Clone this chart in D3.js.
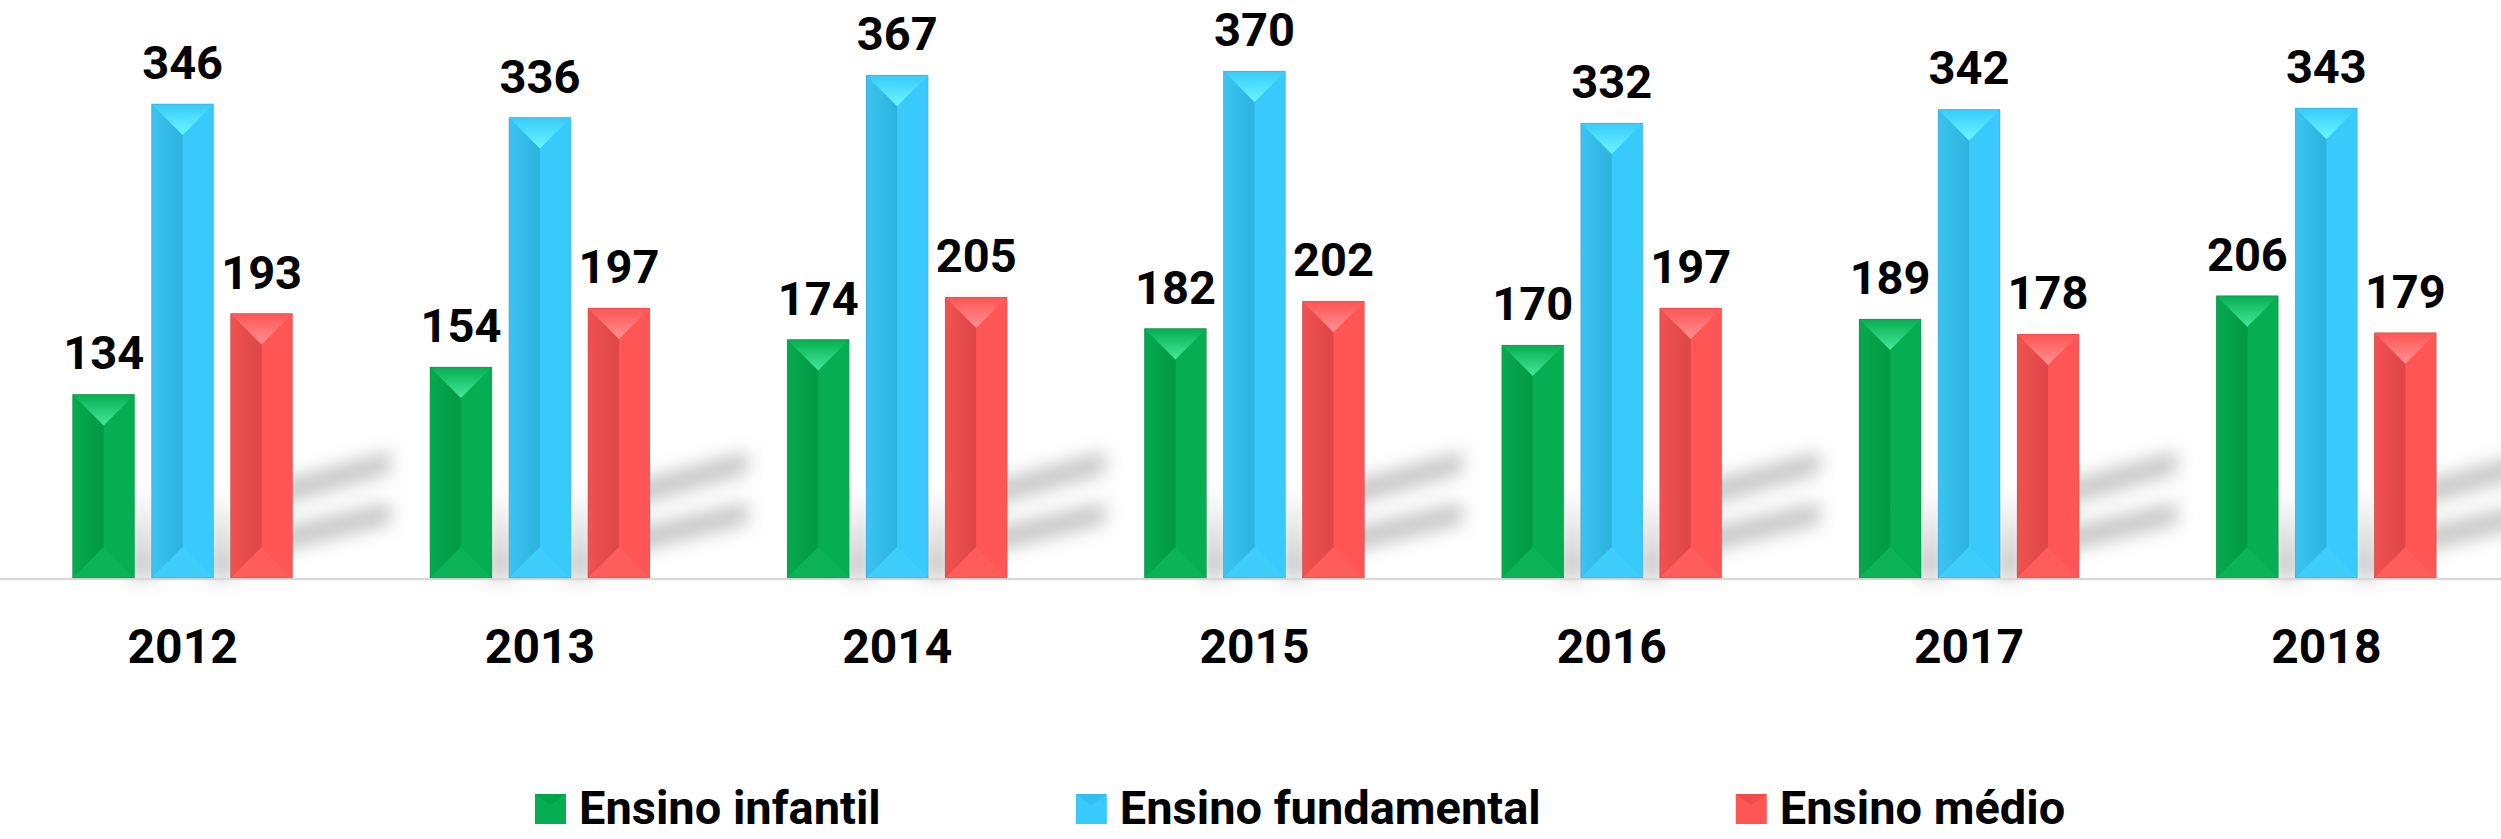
<!DOCTYPE html>
<html>
<head>
<meta charset="utf-8">
<script src="https://cdn.jsdelivr.net/npm/d3@7"></script>
<style>
  body { margin: 0; background: #fff; }
  svg { display: block; }
  text { font-family: Roboto, "DejaVu Sans", sans-serif; font-weight: 700; fill: #000; }
</style>
</head>
<body>
<div id="chart"></div>
<script>
// data
var years = ["2012", "2013", "2014", "2015", "2016", "2017", "2018"];
var series = ["Ensino infantil", "Ensino fundamental", "Ensino médio"];
var infantil = [134, 154, 174, 182, 170, 189, 206];
var fundamental = [346, 336, 367, 370, 332, 342, 343];
var medio = [193, 197, 205, 202, 197, 178, 179];

var width = 2501, height = 839, base = 578;

// colours: main face, left face (edge -> centre), top bevel apex
var colors = {
  "Ensino infantil":    { main: "#05AE50", left: ["#07A94E", "#009944"], apex: "#45E99A", bottom: "#10B65A" },
  "Ensino fundamental": { main: "#38CAFB", left: ["#3CC3F1", "#2DB2DF"], apex: "#6AF7FF", bottom: "#44D0FB" },
  "Ensino médio":       { main: "#FF5555", left: ["#F25151", "#DC4646"], apex: "#FF9191", bottom: "#FF6060" }
};

var rows = years.map(function (yr, i) {
  return { year: yr, values: [
    { key: series[0], value: infantil[i] },
    { key: series[1], value: fundamental[i] },
    { key: series[2], value: medio[i] }
  ] };
});

var svg = d3.select("#chart")
  .append("svg")
  .attr("width", width)
  .attr("height", height);

var defs = svg.append("defs");
var blur = defs.append("filter").attr("id", "blur")
  .attr("x", "-50%").attr("y", "-50%").attr("width", "200%").attr("height", "200%");
blur.append("feGaussianBlur").attr("stdDeviation", 9);

series.forEach(function (s, i) {
  var lg = defs.append("linearGradient").attr("id", "left" + i)
    .attr("x1", 0).attr("y1", 0).attr("x2", 1).attr("y2", 0);
  lg.append("stop").attr("offset", 0).attr("stop-color", colors[s].left[0]);
  lg.append("stop").attr("offset", 1).attr("stop-color", colors[s].left[1]);
  var tg = defs.append("linearGradient").attr("id", "top" + i)
    .attr("x1", 0).attr("y1", 0).attr("x2", 0).attr("y2", 1);
  tg.append("stop").attr("offset", 0).attr("stop-color", colors[s].main);
  tg.append("stop").attr("offset", 1).attr("stop-color", colors[s].apex);
});
var gapGrad = defs.append("linearGradient").attr("id", "gapShadow")
  .attr("x1", 0).attr("y1", 0).attr("x2", 0).attr("y2", 1);
gapGrad.append("stop").attr("offset", 0).attr("stop-color", "#c8c8c8").attr("stop-opacity", 0);
gapGrad.append("stop").attr("offset", 1).attr("stop-color", "#c4c4c4").attr("stop-opacity", 1);

// scales
var x0 = d3.scaleBand().domain(years).range([4, width + 4]);
var x1 = d3.scaleBand().domain(series).range([-110, 110]).paddingInner(0.215);
var y = d3.scaleLinear().domain([0, 420]).range([base, 2.5]);

function cx(yr) { return x0(yr) + x0.bandwidth() / 2; }

// shadows behind each group
var shadows = svg.append("g").attr("filter", "url(#blur)");
rows.forEach(function (d) {
  var xr = cx(d.year) + x1(series[2]) + x1.bandwidth();
  [[86, 115], [40, 64]].forEach(function (s) {
    shadows.append("polygon")
      .attr("points", [
        [xr - 30, base - s[0] - 6], [xr + 98, base - s[1] - 12],
        [xr + 98, base - s[1] + 10], [xr - 30, base - s[0] + 18]
      ].join(" "))
      .attr("fill", "#c6c6c6");
  });
  // soft shadow in the gaps between bars
  for (var k = 0; k < 2; k++) {
    var gx = cx(d.year) + x1(series[k]) + x1.bandwidth();
    shadows.append("rect")
      .attr("x", gx - 6).attr("y", base - 90)
      .attr("width", x1.step() - x1.bandwidth() + 12).attr("height", 90)
      .attr("fill", "url(#gapShadow)");
  }
});

// baseline
svg.append("line")
  .attr("x1", 0).attr("x2", width)
  .attr("y1", base + 1).attr("y2", base + 1)
  .attr("stroke", "#d9d9d9").attr("stroke-width", 2.5);

// bars
var groups = svg.selectAll(".grp")
  .data(rows).enter()
  .append("g").attr("class", "grp")
  .attr("transform", function (d) { return "translate(" + cx(d.year) + ",0)"; });

var bars = groups.selectAll(".bar")
  .data(function (d) { return d.values; }).enter()
  .append("g").attr("class", "bar");

bars.each(function (d) {
  var g = d3.select(this);
  var i = series.indexOf(d.key);
  var w = x1.bandwidth();
  var xa = x1(d.key), xb = xa + w, xc = xa + w / 2;
  var top = y(d.value);
  var bev = w / 2;
  g.append("rect")
    .attr("x", xa).attr("y", top).attr("width", w).attr("height", base - top)
    .attr("fill", colors[d.key].main);
  g.append("polygon")
    .attr("points", [[xa, top], [xc, top + bev], [xc, base - bev], [xa, base]].join(" "))
    .attr("fill", "url(#left" + i + ")");
  g.append("polygon")
    .attr("points", [[xa, base], [xc, base - bev], [xb, base]].join(" "))
    .attr("fill", colors[d.key].bottom).attr("opacity", 0.6);
  g.append("polygon")
    .attr("points", [[xa, top], [xb, top], [xc, top + bev]].join(" "))
    .attr("fill", "url(#top" + i + ")");
  g.append("rect")
    .attr("x", xa).attr("y", top).attr("width", w).attr("height", base - top)
    .attr("fill", "none").attr("stroke", "rgba(0,0,0,0.12)").attr("stroke-width", 1);
});

// value labels
bars.append("text")
  .attr("x", function (d) { return x1(d.key) + x1.bandwidth() / 2; })
  .attr("y", function (d) { return y(d.value) - 25; })
  .attr("text-anchor", "middle")
  .style("font-size", "47px")
  .text(function (d) { return d.value; });

// year labels
svg.selectAll(".year")
  .data(years).enter()
  .append("text")
  .attr("x", function (d) { return cx(d); })
  .attr("y", 663)
  .attr("text-anchor", "middle")
  .style("font-size", "48px")
  .text(function (d) { return d; });

// legend
var legend = svg.append("g");
var lx = 535;
series.forEach(function (s, i) {
  var c = colors[s];
  legend.append("rect")
    .attr("x", lx).attr("y", 794).attr("width", 31).attr("height", 30)
    .attr("fill", c.main);
  legend.append("polygon")
    .attr("points", [[lx, 794], [lx + 31, 794], [lx + 15.5, 805]].join(" "))
    .attr("fill", c.left[1]).attr("opacity", 0.5);
  var t = legend.append("text")
    .attr("x", lx + 44).attr("y", 824)
    .style("font-size", "47px")
    .text(s);
  lx = lx + 44 + t.node().getComputedTextLength() + 195;
});
</script>
</body>
</html>
